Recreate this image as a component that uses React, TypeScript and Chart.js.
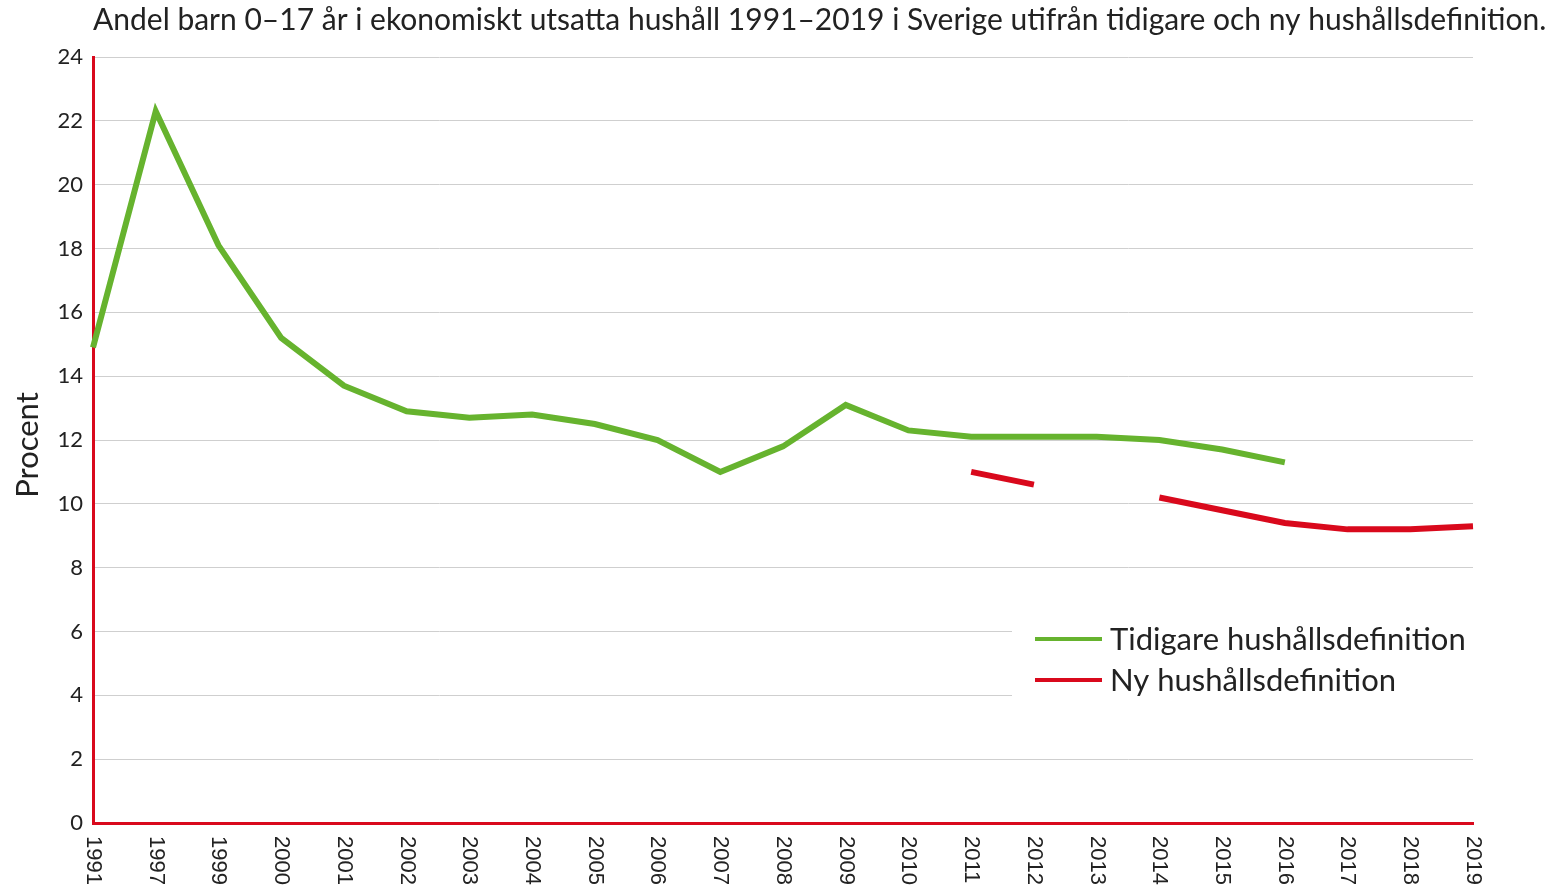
import React, { useEffect, useRef } from "react";
import { Chart, registerables } from "chart.js";

Chart.register(...registerables);

const TITLE =
  "Andel barn 0–17 år i ekonomiskt utsatta hushåll 1991–2019 i Sverige utifrån tidigare och ny hushållsdefinition.";
const Y_TITLE = "Procent";
const years = [
  "1991", "1997", "1999", "2000", "2001", "2002", "2003", "2004", "2005", "2006", "2007", "2008",
  "2009", "2010", "2011", "2012", "2013", "2014", "2015", "2016", "2017", "2018", "2019",
];
const tidigare: (number | null)[] = [
  14.9, 22.3, 18.1, 15.2, 13.7, 12.9, 12.7, 12.8, 12.5, 12.0, 11.0, 11.8,
  13.1, 12.3, 12.1, 12.1, 12.1, 12.0, 11.7, 11.3, null, null, null,
];
const ny: (number | null)[] = [
  null, null, null, null, null, null, null, null, null, null, null, null,
  null, null, 11.0, 10.6, null, 10.2, 9.8, 9.4, 9.2, 9.2, 9.3,
];
const seriesNames = ["Tidigare hushållsdefinition", "Ny hushållsdefinition"];
const GREEN = "#66b32e";
const RED = "#d9091c";

const extras = {
  id: "extras",
  afterDraw(chart: any) {
    const ctx = chart.ctx;
    const area = chart.chartArea;
    ctx.save();
    // title
    ctx.fillStyle = "#222";
    ctx.font = "30px Lato";
    ctx.textAlign = "left";
    ctx.textBaseline = "middle";
    ctx.fillText(TITLE, 93, 20, 1455);
    // y title
    ctx.save();
    ctx.translate(28, 445);
    ctx.rotate(-Math.PI / 2);
    ctx.textAlign = "center";
    ctx.font = "31px Lato";
    ctx.fillText(Y_TITLE, 0, 0);
    ctx.restore();
    // x labels rotated clockwise
    const xs = chart.scales.x;
    ctx.font = "22px 'Liberation Sans'";
    ctx.fillStyle = "#222";
    years.forEach((y, i) => {
      const px = xs.getPixelForTick(i);
      ctx.save();
      ctx.translate(px, area.bottom + 13);
      ctx.rotate(Math.PI / 2);
      ctx.textAlign = "left";
      ctx.textBaseline = "middle";
      ctx.fillText(y, 0, 0);
      ctx.restore();
    });
    // legend
    ctx.fillStyle = "#fff";
    ctx.fillRect(1012, 616, 470, 88);
    const colors = [GREEN, RED];
    ctx.font = "31px Lato";
    ctx.textAlign = "left";
    ctx.textBaseline = "middle";
    seriesNames.forEach((n, i) => {
      const yy = 639 + i * 41;
      ctx.strokeStyle = colors[i];
      ctx.lineWidth = 4;
      ctx.beginPath();
      ctx.moveTo(1035, yy);
      ctx.lineTo(1102, yy);
      ctx.stroke();
      ctx.fillStyle = "#222";
      ctx.fillText(n, 1110, yy + 1, 362);
    });
    ctx.restore();
  },
};

export default function App() {
  const ref = useRef<HTMLCanvasElement>(null);
  useEffect(() => {
    document.body.style.margin = "0";
    const chart = new Chart(ref.current!, {
      type: "line",
      data: {
        labels: years,
        datasets: [
          {
            label: seriesNames[0],
            data: tidigare,
            borderColor: GREEN,
            borderWidth: 6,
            pointRadius: 0,
            tension: 0,
            spanGaps: false,
          },
          {
            label: seriesNames[1],
            data: ny,
            borderColor: RED,
            borderWidth: 6,
            pointRadius: 0,
            tension: 0,
            spanGaps: false,
          },
        ],
      },
      options: {
        responsive: false,
        animation: false,
        layout: { padding: { top: 57, right: 81, left: 0, bottom: 0 } },
        plugins: { legend: { display: false }, title: { display: false }, tooltip: { enabled: false } },
        scales: {
          x: {
            offset: false,
            grid: { display: false, drawTicks: false },
            border: { display: true, color: RED, width: 3 },
            ticks: { display: false },
            afterFit: (s: any) => {
              s.height = 69;
            },
          },
          y: {
            min: 0,
            max: 24,
            ticks: { stepSize: 2, color: "#222", font: { family: "Lato", size: 22 }, padding: 10 },
            grid: { color: "#cfcfcf", lineWidth: 1, drawTicks: false },
            border: { display: true, color: RED, width: 3 },
            afterFit: (s: any) => {
              s.width = 93;
            },
          },
        },
      },
      plugins: [extras],
    });
    return () => chart.destroy();
  }, []);
  return (
    <div style={{ width: 1554, height: 892 }}>
      <canvas ref={ref} width={1554} height={892} />
    </div>
  );
}
